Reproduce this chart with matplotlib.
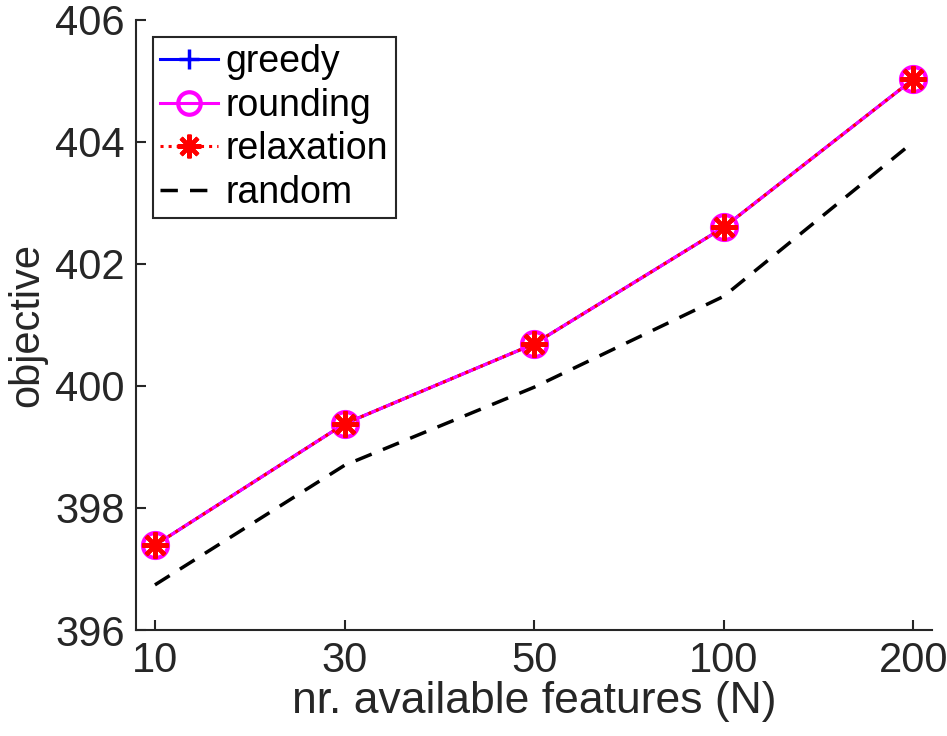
import matplotlib
matplotlib.use('Agg')
import matplotlib.pyplot as plt

# valores
features = ['10', '30', '50', '100', '200']
greedy = [397.39, 399.38, 400.69, 402.60, 405.03]
rounding = [397.39, 399.38, 400.69, 402.60, 405.03]
relaxation = [397.39, 399.38, 400.69, 402.60, 405.03]
random_sel = [396.74, 398.70, 399.98, 401.47, 404.00]

plt.rcParams['font.family'] = ['Liberation Sans', 'DejaVu Sans']

fig = plt.figure(figsize=(9.47, 7.36), dpi=100)
ax = fig.add_axes([0.1436, 0.144, 0.841, 0.829])

x = list(range(1, len(features) + 1))

ax.plot(x, greedy, color='#0000ff', linestyle='-', linewidth=2.2,
        marker='+', markersize=16, markeredgewidth=2.5, label='greedy')
ax.plot(x, rounding, color='#ff00ff', linestyle='-', linewidth=2.2,
        marker='o', markersize=18, markeredgewidth=3, markerfacecolor='none',
        label='rounding')
ax.plot(x, relaxation, color='#ff0000', linestyle=':', linewidth=2.2,
        marker=(8, 2, 0), markersize=19, markeredgewidth=3, label='relaxation')
ax.plot(x, random_sel, color='black', linestyle=(0, (5, 3.5)), linewidth=2.5,
        label='random')

ax.set_xlim(0.9, 5.1)
ax.set_ylim(396, 406)
ax.set_xticks(x)
ax.set_xticklabels(features)
ax.set_yticks([396, 398, 400, 402, 404, 406])

for s in ['top', 'right']:
    ax.spines[s].set_visible(False)
for s in ['left', 'bottom']:
    ax.spines[s].set_color('#262626')
    ax.spines[s].set_linewidth(1.5)

ax.tick_params(direction='in', length=7, width=1.5, colors='#262626',
               labelsize=30, labelcolor='#262626', pad=8)

ax.set_xlabel('nr. available features (N)', fontsize=32, color='#262626', labelpad=0)
ax.set_ylabel('objective', fontsize=30, color='#262626', labelpad=6)

leg = ax.legend(loc='upper left', bbox_to_anchor=(0.021, 0.972), borderaxespad=0,
                fontsize=27, handlelength=1.55, handletextpad=0.2, labelspacing=0.2,
                borderpad=0.2, fancybox=False, framealpha=1, edgecolor='#262626',
                markerscale=0.9)
leg.get_frame().set_linewidth(1.5)
for t in leg.get_texts():
    t.set_color('black')

fig.savefig('out.png', dpi=100)
